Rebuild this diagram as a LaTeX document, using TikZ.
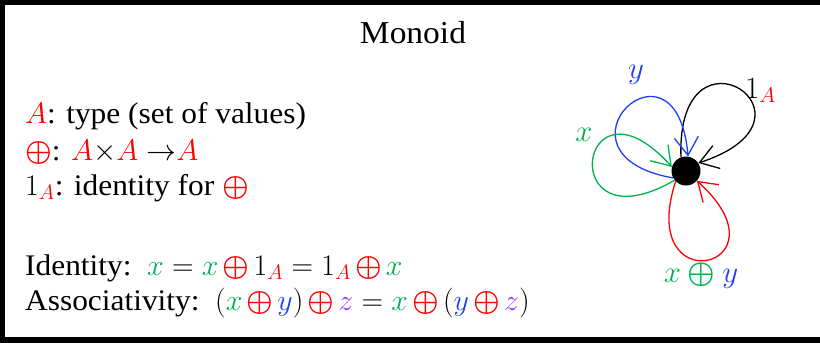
\RequirePackage{fix-cm}
\documentclass[tikz,border=0pt]{standalone}
\usepackage{fontspec}
\setmainfont{Liberation Serif}[FakeStretch=1.05]
\usepackage{amsmath,bm}
\usetikzlibrary{arrows.meta}
\definecolor{opred}{HTML}{FF0000}
\definecolor{vargreen}{HTML}{00B050}
\definecolor{varblue}{HTML}{1F3FF0}
\definecolor{varpurple}{HTML}{9933FF}
% coloured symbols
\newcommand{\Ar}{{\color{opred}A}}
\newcommand{\plusb}{{\color{opred}\bm{\oplus}}}
\newcommand{\plusr}{{\mkern2.5mu\plusb\mkern2.5mu}}
\newcommand{\xg}{{\color{vargreen}x}}
\newcommand{\yb}{{\color{varblue}y}}
\newcommand{\zp}{{\color{varpurple}z}}
\begin{document}
\begin{tikzpicture}[x=1bp, y=1bp,
    body/.style={anchor=base west, inner sep=0pt, font=\fontsize{30}{36}\selectfont},
    lbl/.style={inner sep=0pt, font=\fontsize{31}{36}\selectfont},
    loopline/.style={line width=1.3pt, -{Straight Barb[length=18pt, width=24pt, line width=1.3pt]}}]
  \useasboundingbox (0,0) rectangle (820,343);
  % Frame (open on the right)
  \fill[white] (0,0) rectangle (820,343);
  \fill[black] (0,0) rectangle (5,343);
  \fill[black] (0,338) rectangle (820,343);
  \fill[black] (0,0) rectangle (820,6);
  % Title
  \node[anchor=base, inner sep=0pt, font=\fontsize{32}{38}\selectfont] (title) at (413,300) {Monoid};
  % Definitions
  \node[body] (ltype) at (25,220) {$\Ar$: type (set of values)};
  \node[body] (lop)   at (25,183) {$\plusb$: $\Ar{\times}\Ar\;{\rightarrow}\Ar$};
  \node[body] (lunit) at (25,148) {$1_{\Ar}$: identity for $\plusb$};
  % Laws
  \node[body] (lid)    at (25,68) {Identity:\ \ $\xg = \xg\plusr1_{\Ar} = 1_{\Ar}\plusr\xg$};
  \node[body] (lassoc) at (25,33) {Associativity:\ \ $(\xg\plusr\yb)\plusr\zp = \xg\plusr(\yb\plusr\zp)$};
  % Single object with its loops
  \node[circle, fill=black, minimum size=29bp, inner sep=0pt] (pt) at (686,172) {};
  \draw[loopline, black]       (pt.110) to[out=92,  in=18,  distance=145bp] (pt.33);
  \draw[loopline, varblue]     (pt.208) to[out=170, in=95,  distance=135bp] (pt.82);
  \draw[loopline, vargreen]    (pt.219) to[out=210, in=132, distance=140bp] (pt.164);
  \draw[loopline, opred]       (pt.225) to[out=252, in=318, distance=130bp] (pt.318);
  % Loop labels
  \node[lbl, anchor=base west] (lbunit) at (745,245) {$1_{\Ar}$};
  \node[lbl] (lby) at (636,268) {$\yb$};
  \node[lbl] (lbx) at (584,208) {$\xg$};
  \node[lbl, anchor=base] (lbsum) at (701,61) {$\xg \mathbin{\color{vargreen}\bm{\oplus}} \yb$};
\end{tikzpicture}
\end{document}
